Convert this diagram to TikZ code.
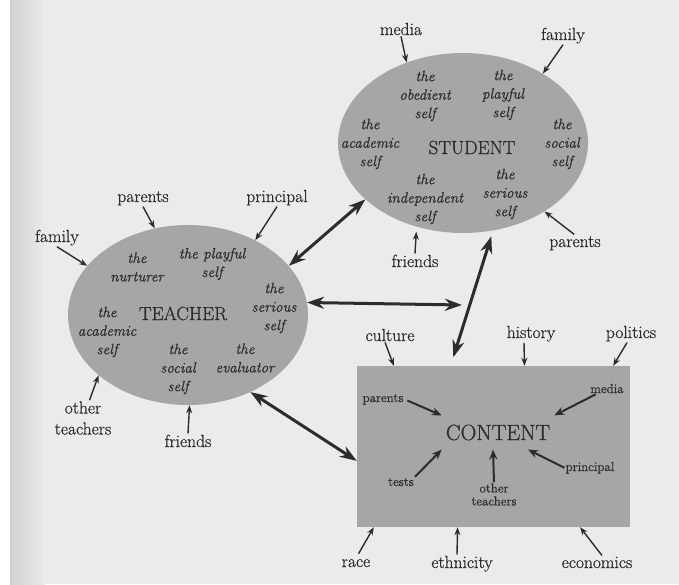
\documentclass[tikz,border=0pt]{standalone}
\usepackage{fontspec}
\setmainfont{Latin Modern Roman}[FakeBold = 0.7]
\usepackage{tikz}
\usetikzlibrary{shapes.geometric, arrows.meta}

\definecolor{ink}{HTML}{2C2C2C}
\definecolor{paper}{HTML}{EBEBEB}
\definecolor{gutter}{HTML}{D2D2D2}
\definecolor{halftone}{HTML}{A6A6A6}

\tikzset{
  selfnote/.style = {font = \itshape\fontsize{15}{18.5}\selectfont, align = center, text = ink, inner sep = 1pt},
  role/.style = {font = \fontsize{19}{22}\selectfont, text = ink, anchor = base},
  outlabel/.style = {font = \fontsize{17.5}{21}\selectfont, align = center, text = ink, inner sep = 1pt},
  inlabel/.style = {font = \fontsize{13}{13}\selectfont, align = center, text = ink, inner sep = 1pt},
  pull/.style = {draw = ink, line width = 1.4pt, -{Stealth[length = 8pt, width = 6pt]}},
  pullin/.style = {draw = ink, line width = 2pt, -{Stealth[length = 10pt, width = 8pt]}},
  bond/.style = {draw = ink, line width = 3pt,
                 {Stealth[length = 17pt, width = 12pt]}-{Stealth[length = 17pt, width = 12pt]}}
}

\begin{document}
\begin{tikzpicture}[x = 1pt, y = -1pt]
  \useasboundingbox (0,0) rectangle (679,584);
  \fill[paper] (0,0) rectangle (679,584);
  \fill[white] (0,0) rectangle (10,584);
  \shade[left color = gutter, right color = paper] (10,0) rectangle (45,584);

  \node[ellipse, fill = halftone, minimum width = 250pt, minimum height = 180pt, inner sep = 0pt] (student) at (463,143) {};
  \node[ellipse, fill = halftone, minimum width = 240pt, minimum height = 180pt, inner sep = 0pt] (teacher) at (188,315) {};
  \node[fill = halftone, minimum width = 273pt, minimum height = 161pt, inner sep = 0pt] (content) at (493.5,446.5) {};

  % student
  \node[role] (studentname) at (472,154) {STUDENT};
  \node[selfnote] (sobedient) at (425,96) {the\\obedient\\self};
  \node[selfnote] (splayful) at (503,95) {the\\playful\\self};
  \node[selfnote] (sacademic) at (370,144) {the\\academic\\self};
  \node[selfnote] (ssocial) at (562,144) {the\\social\\self};
  \node[selfnote] (sindependent) at (425,199) {the\\independent\\self};
  \node[selfnote] (sserious) at (505,194) {the\\serious\\self};

  \node[outlabel, anchor = base] (smedia) at (401,35) {media};
  \node[outlabel, anchor = base] (sfamily) at (563,40) {family};
  \node[outlabel, anchor = base] (sparents) at (575,247) {parents};
  \node[outlabel, anchor = base] (sfriends) at (415,267) {friends};

  % teacher
  \node[role] (teachername) at (183,320) {TEACHER};
  \node[selfnote] (tnurturer) at (137,267) {the\\nurturer};
  \node[selfnote] (tplayful) at (212,264) {the playful\\self};
  \node[selfnote] (tserious) at (274,308) {the\\serious\\self};
  \node[selfnote] (tacademic) at (107,332) {the\\academic\\self};
  \node[selfnote] (tsocial) at (178,369) {the\\social\\self};
  \node[selfnote] (tevaluator) at (245,358) {the\\evaluator};

  \node[outlabel, anchor = base] (tparents) at (143,202) {parents};
  \node[outlabel, anchor = base] (tprincipal) at (277,202) {principal};
  \node[outlabel, anchor = base] (tfamily) at (57,242) {family};
  \node[outlabel] (tother) at (83,418) {other\\teachers};
  \node[outlabel, anchor = base] (tfriends) at (188,447) {friends};

  % content
  \node[role, font = \fontsize{22}{24}\selectfont, inner xsep = 4pt, inner ysep = 9pt] (ctitle) at (498,440) {CONTENT};
  \node[inlabel, anchor = base] (cparents) at (383,402) {parents};
  \node[inlabel, anchor = base] (cmedia) at (607,393) {media};
  \node[inlabel, anchor = base] (ctests) at (401,486) {tests};
  \node[inlabel] (cother) at (494,494.5) {other\\teachers};
  \node[inlabel, anchor = base] (cprincipal) at (590,471) {principal};

  \node[outlabel, anchor = base] (culture) at (390,341) {culture};
  \node[outlabel, anchor = base] (history) at (531,338) {history};
  \node[outlabel, anchor = base] (politics) at (631,338) {politics};
  \node[outlabel, anchor = base] (race) at (356,567) {race};
  \node[outlabel, anchor = base] (ethnicity) at (462,568) {ethnicity};
  \node[outlabel, anchor = base] (economics) at (597,568) {economics};

  \draw[pull] (smedia.south) -- (student.125);
  \draw[pull] (sfamily.south) -- (student.41);
  \draw[pull, shorten < = 1pt] (sparents.north) -- (student.-40);
  \draw[pull, shorten > = 5pt] (sfriends.north) -- (student.-119);

  \draw[pull] (tparents.south) -- (teacher.111);
  \draw[pull] (tprincipal.south) -- (teacher.48);
  \draw[pull] (tfamily.south) -- (teacher.154);
  \draw[pull] (tother) -- (teacher.214);
  \draw[pull] (tfriends.north) -- (teacher.271);

  \draw[pull] ([xshift = -5pt]culture.south) -- (content.141);
  \draw[pull] ([xshift = -7pt]history.south) -- (content.69.5);
  \draw[pull] ([xshift = -4pt]politics.south) -- (content.34.7);
  \draw[pull, shorten < = 5pt] (race.north) -- (content.214);
  \draw[pull] ([xshift = -5pt]ethnicity.north) -- (content.246);
  \draw[pull] ([xshift = 5pt]economics.north) -- (content.317);

  \draw[pullin, shorten < = 3pt] (cparents.east) -- (ctitle.north west);
  \draw[pullin] (cmedia) -- (ctitle.north east);
  \draw[pullin] (ctests.north east) -- (ctitle.south west);
  \draw[pullin] (cother.north) -- ([xshift = -5pt]ctitle.south);
  \draw[pullin] (cprincipal.west) -- ([xshift = 30pt]ctitle.south);

  \coordinate (meet) at (462,305);
  \draw[bond] (teacher.26) -- (student.210);
  \draw[bond] (teacher.6) -- (meet);
  \draw[bond, shorten < = 6pt, shorten > = 9pt] (student.-71) -- (content.118);
  \draw[bond] (teacher.-51) -- (content.186);
\end{tikzpicture}
\end{document}
